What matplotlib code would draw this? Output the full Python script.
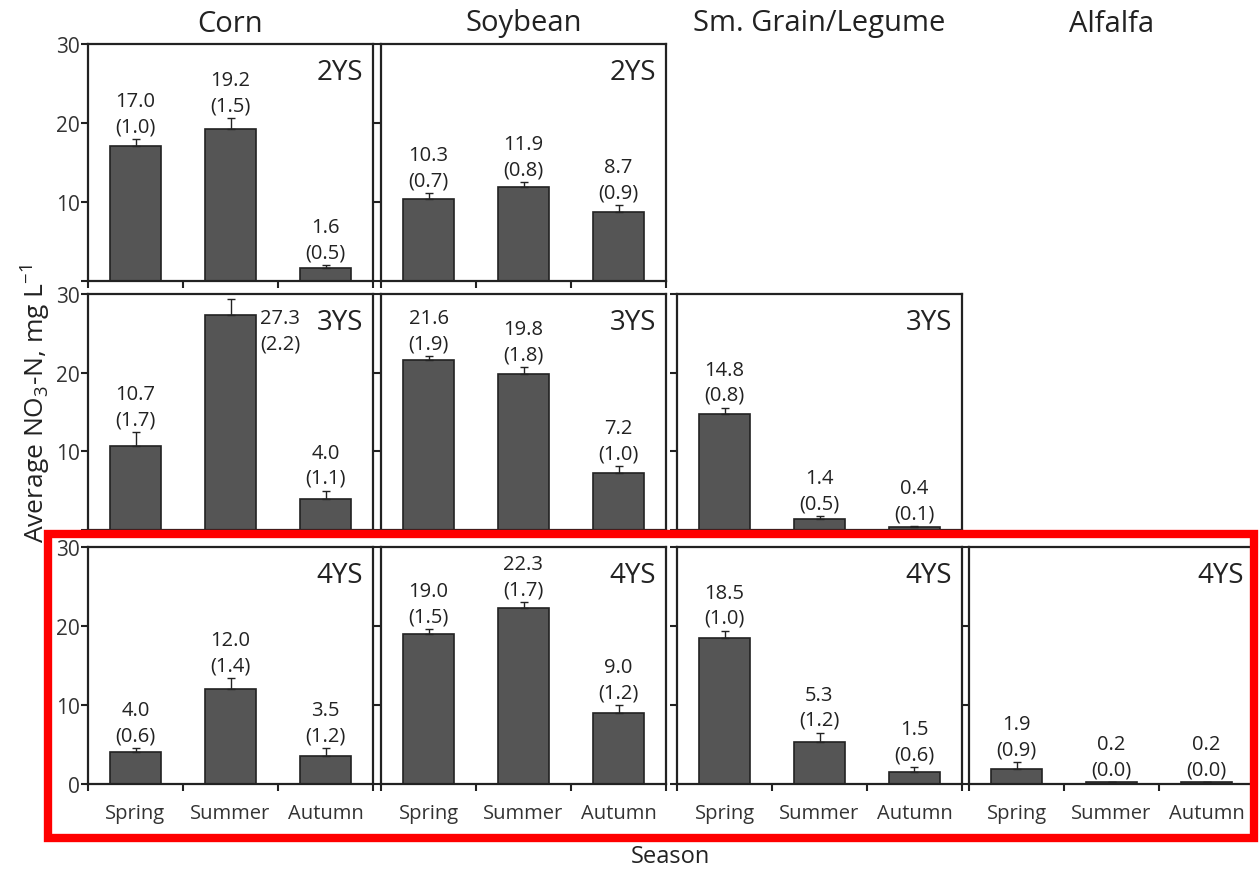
import matplotlib.pyplot as plt
from matplotlib.patches import Rectangle

plt.rcParams['font.family'] = ['Open Sans', 'DejaVu Sans']
plt.rcParams['mathtext.fontset'] = 'custom'
plt.rcParams['mathtext.rm'] = 'Open Sans'
plt.rcParams['text.color'] = '#222222'

seasons = ['Spring', 'Summer', 'Autumn']
crops = ['Corn', 'Soybean', 'Sm. Grain/Legume', 'Alfalfa']
systems = ['2YS', '3YS', '4YS']

# mean NO3-N (mg/L), labelled SE, and whisker length as drawn
corn_2ys = [17.0, 19.2, 1.6]
corn_2ys_se = [1.0, 1.5, 0.5]
corn_2ys_whisk = [0.9, 1.4, 0.4]
soy_2ys = [10.3, 11.9, 8.7]
soy_2ys_se = [0.7, 0.8, 0.9]
soy_2ys_whisk = [0.75, 0.6, 0.9]

corn_3ys = [10.7, 27.3, 4.0]
corn_3ys_se = [1.7, 2.2, 1.1]
corn_3ys_whisk = [1.7, 2.1, 1.0]
soy_3ys = [21.6, 19.8, 7.2]
soy_3ys_se = [1.9, 1.8, 1.0]
soy_3ys_whisk = [0.5, 0.9, 0.9]
grain_3ys = [14.8, 1.4, 0.4]
grain_3ys_se = [0.8, 0.5, 0.1]
grain_3ys_whisk = [0.75, 0.35, 0.1]

corn_4ys = [4.0, 12.0, 3.5]
corn_4ys_se = [0.6, 1.4, 1.2]
corn_4ys_whisk = [0.55, 1.4, 1.05]
soy_4ys = [19.0, 22.3, 9.0]
soy_4ys_se = [1.5, 1.7, 1.2]
soy_4ys_whisk = [0.6, 0.7, 1.0]
grain_4ys = [18.5, 5.3, 1.5]
grain_4ys_se = [1.0, 1.2, 0.6]
grain_4ys_whisk = [0.9, 1.2, 0.6]
alf_4ys = [1.9, 0.2, 0.2]
alf_4ys_se = [0.9, 0.0, 0.0]
alf_4ys_whisk = [0.85, 0.0, 0.0]

# (row, col) -> (means, se, whiskers)
panels = {
    (0, 0): (corn_2ys, corn_2ys_se, corn_2ys_whisk),
    (0, 1): (soy_2ys, soy_2ys_se, soy_2ys_whisk),
    (1, 0): (corn_3ys, corn_3ys_se, corn_3ys_whisk),
    (1, 1): (soy_3ys, soy_3ys_se, soy_3ys_whisk),
    (1, 2): (grain_3ys, grain_3ys_se, grain_3ys_whisk),
    (2, 0): (corn_4ys, corn_4ys_se, corn_4ys_whisk),
    (2, 1): (soy_4ys, soy_4ys_se, soy_4ys_whisk),
    (2, 2): (grain_4ys, grain_4ys_se, grain_4ys_whisk),
    (2, 3): (alf_4ys, alf_4ys_se, alf_4ys_whisk),
}

W, H = 1259, 870
fig = plt.figure(figsize=(W / 100, H / 100), dpi=100)

col_left = [88, 381, 677, 969]
col_width = 285
row_span = [(44.7, 281.7), (295, 531), (548, 785)]

dark = '#222222'
x = list(range(len(seasons)))

for (r, c), (means, se, whisk) in panels.items():
    top, bot = row_span[r]
    ax = fig.add_axes([col_left[c] / W, 1 - bot / H,
                       col_width / W, (bot - top) / H])
    ax.bar(x, means, width=0.53, color='#555555', edgecolor=dark,
           linewidth=1.2, zorder=2)
    ax.errorbar(x, means, yerr=[[0] * len(whisk), whisk], fmt='none',
                ecolor=dark, elinewidth=1.0, capsize=3, capthick=1.0,
                zorder=3)
    for xi, m, s, w in zip(x, means, se, whisk):
        txt = f'{m:.1f}\n({s:.1f})'
        if m + w > 25:
            # no room above, label goes beside the bar
            ax.annotate(txt, xy=(xi + 0.265, m - 2.0), xytext=(3, 0),
                        textcoords='offset points', ha='left', va='center',
                        fontsize=14.5, linespacing=1.35, color=dark)
        else:
            ax.annotate(txt, xy=(xi, m + w), xytext=(0, 2),
                        textcoords='offset points', ha='center',
                        va='bottom', fontsize=14.5, linespacing=1.35,
                        color=dark)

    ax.set_xlim(-0.5, 2.5)
    ax.set_ylim(0, 30)
    ax.text(0.965, 0.94, systems[r], transform=ax.transAxes, ha='right',
            va='top', fontsize=20, color=dark)

    for sp in ax.spines.values():
        sp.set_linewidth(1.6)
        sp.set_color(dark)

    ax.set_yticks([0, 10, 20, 30])
    if c == 0:
        if r == 2:
            ax.set_yticklabels(['0', '10', '20', '30'])
        else:
            ax.set_yticklabels(['', '10', '20', '30'])
    else:
        ax.set_yticklabels([])
    ax.tick_params(axis='y', direction='out', length=5, width=1.5,
                   color=dark, labelsize=15, labelcolor='#333333', pad=1)

    ax.set_xticks(x)
    ax.set_xticks([-0.5, 0.5, 1.5, 2.5], minor=True)
    ax.tick_params(axis='x', which='major', length=0, pad=14,
                   labelsize=14.5, labelcolor='#333333')
    ax.tick_params(axis='x', which='minor', direction='out', length=5,
                   width=1.5, color=dark)
    if r == 2:
        ax.set_xticklabels(seasons)
    else:
        ax.set_xticklabels([])

for c, crop in enumerate(crops):
    fig.text((col_left[c] + col_width / 2) / W, 1 - 24 / H, crop,
             ha='center', va='center', fontsize=21, color=dark)

fig.text(35 / W, 1 - 404 / H,
         r'Average NO$_\mathregular{3}$-N, mg L$^\mathregular{-1}$',
         rotation=90, ha='center', va='center', fontsize=19, color=dark)
fig.text(670 / W, 1 - 857 / H, 'Season', ha='center', va='center',
         fontsize=17, color=dark)

fig.add_artist(Rectangle((47.5 / W, 1 - 839 / H), (1254 - 47.5) / W,
                         (839 - 535) / H, transform=fig.transFigure,
                         fill=False, edgecolor='#ff0000', linewidth=6,
                         zorder=10))

fig.savefig('out.png', dpi=100)
